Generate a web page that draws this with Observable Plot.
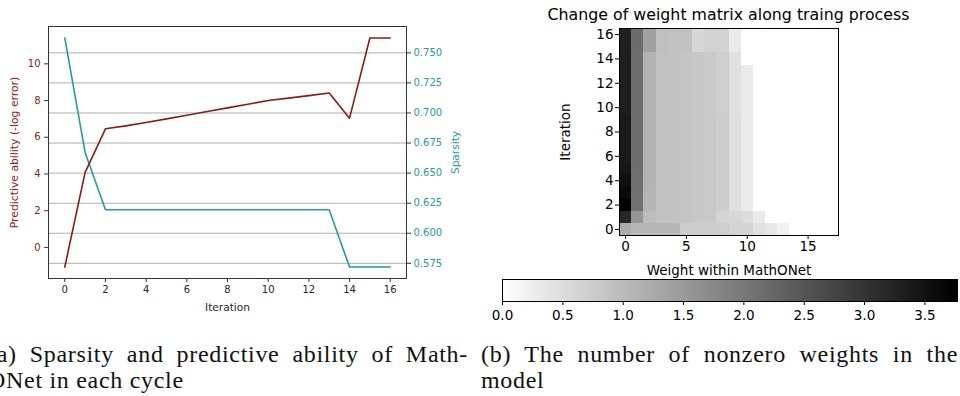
<!DOCTYPE html>
<html>
<head>
<meta charset="utf-8">
<script src="https://cdn.jsdelivr.net/npm/d3@7"></script>
<script src="https://cdn.jsdelivr.net/npm/@observablehq/plot@0.6"></script>
<style>
  html, body { margin: 0; padding: 0; background: #fff; }
  #root { position: relative; width: 960px; height: 396px; overflow: hidden; font-family: "DejaVu Sans", sans-serif; }
  #root svg { position: absolute; }
  .title { position: absolute; text-align: center; font-family: "DejaVu Sans", sans-serif; font-size: 15.8px; line-height: 16px; color: #000; white-space: nowrap; }
  .cap { position: absolute; font-family: "Liberation Serif", serif; font-size: 24px; letter-spacing: 0.7px; line-height: 26px; color: #111; white-space: nowrap; }
  .just { text-align: justify; text-align-last: justify; white-space: normal; }
</style>
</head>
<body>
<div id="root"></div>
<script>
// ---- (a) sparsity and predictive ability per cycle ----
const iterations = [0, 1, 2, 3, 4, 5, 6, 7, 8, 9, 10, 11, 12, 13, 14, 15, 16];
const predictive = [-1.07, 4.09, 6.46, 6.62, 6.80, 7.00, 7.20, 7.40, 7.60, 7.80, 8.00, 8.13, 8.27, 8.41, 7.04, 11.41, 11.41];
const sparsity = [0.7624, 0.6672, 0.6195, 0.6195, 0.6195, 0.6195, 0.6195, 0.6195, 0.6195, 0.6195, 0.6195, 0.6195, 0.6195, 0.6195, 0.5719, 0.5719, 0.5719];
const iterationTicks = [0, 2, 4, 6, 8, 10, 12, 14, 16];
const predictiveTicks = [0, 2, 4, 6, 8, 10];
const sparsityTicks = [0.575, 0.600, 0.625, 0.650, 0.675, 0.700, 0.725, 0.750];

// ---- (b) nonzero weights along training (one row per iteration, one value per weight bin) ----
const heatIterations = [0, 1, 2, 3, 4, 5, 6, 7, 8, 9, 10, 11, 12, 13, 14, 15, 16];
const weightBins = [0, 1, 2, 3, 4, 5, 6, 7, 8, 9, 10, 11, 12, 13, 14, 15, 16, 17];
const nonzeroLevel = [
  [1.24, 1.06, 1.06, 1.06, 1.06, 0.74, 0.74, 0.74, 0.72, 0.64, 0.64, 0.44, 0.34, 0.19],
  [3.20, 1.55, 0.98, 0.92, 0.90, 0.86, 0.82, 0.80, 0.62, 0.59, 0.52, 0.30],
  [3.77, 2.10, 1.10, 0.92, 0.90, 0.86, 0.82, 0.80, 0.74, 0.46, 0.30],
  [3.62, 2.12, 1.10, 0.92, 0.90, 0.86, 0.82, 0.80, 0.74, 0.46, 0.30],
  [3.55, 2.12, 1.12, 0.92, 0.90, 0.86, 0.82, 0.80, 0.74, 0.46, 0.30],
  [3.45, 2.14, 1.12, 0.92, 0.90, 0.86, 0.82, 0.80, 0.74, 0.46, 0.30],
  [3.40, 2.14, 1.12, 0.92, 0.90, 0.86, 0.82, 0.80, 0.74, 0.46, 0.30],
  [3.40, 2.14, 1.12, 0.92, 0.90, 0.86, 0.82, 0.80, 0.74, 0.46, 0.30],
  [3.40, 2.14, 1.12, 0.92, 0.90, 0.86, 0.82, 0.80, 0.74, 0.46, 0.30],
  [3.40, 2.14, 1.12, 0.92, 0.90, 0.86, 0.82, 0.80, 0.74, 0.46, 0.30],
  [3.33, 2.16, 1.12, 0.92, 0.90, 0.86, 0.82, 0.78, 0.72, 0.44, 0.30],
  [3.33, 2.16, 1.12, 0.92, 0.90, 0.86, 0.82, 0.78, 0.72, 0.44, 0.30],
  [3.33, 2.16, 1.12, 0.92, 0.90, 0.86, 0.82, 0.78, 0.72, 0.44, 0.30],
  [3.33, 2.16, 1.12, 0.92, 0.90, 0.86, 0.82, 0.78, 0.72, 0.44, 0.30],
  [3.33, 2.16, 1.12, 0.92, 0.90, 0.86, 0.82, 0.78, 0.72, 0.44],
  [3.30, 2.18, 1.40, 0.94, 0.92, 0.90, 0.59, 0.67, 0.67, 0.30],
  [3.30, 2.18, 1.40, 0.94, 0.92, 0.90, 0.59, 0.67, 0.67, 0.30]
];
const colorbarTicks = [0, 0.5, 1.0, 1.5, 2.0, 2.5, 3.0, 3.5];

const red = "#8b1a1a";
const teal = "#2a9a96";
const axisInk = "#333";

// matplotlib-style 5% padding around the data range
const padded = (values) => {
  const [lo, hi] = d3.extent(values);
  const p = (hi - lo) * 0.05;
  return [lo - p, hi + p];
};

const root = document.getElementById("root");
const place = (node, left, top) => {
  node.style.left = left + "px";
  node.style.top = top + "px";
  root.appendChild(node);
  return node;
};

// Shared frame for the twin-axis chart
const twin = {
  width: 480, height: 320,
  marginLeft: 48, marginRight: 74, marginTop: 26, marginBottom: 42,
  x: {domain: padded(iterations), axis: null}
};
const lineRows = iterations.map((it, i) => ({iteration: it, predictive: predictive[i], sparsity: sparsity[i]}));

// Right axis: sparsity, grid, x axis and frame
place(Plot.plot({
  ...twin,
  style: {background: "transparent", fontFamily: "DejaVu Sans", fontSize: "10px", color: "#262626"},
  y: {domain: padded(sparsity), axis: null},
  marks: [
    Plot.gridY(sparsityTicks, {stroke: "#b0b0b0", strokeOpacity: 1, strokeWidth: 1}),
    Plot.line(lineRows, {x: "iteration", y: "sparsity", stroke: teal, strokeWidth: 1.6}),
    Plot.axisY(sparsityTicks, {anchor: "right", tickFormat: ".3f", tickSize: 4, tickPadding: 3, stroke: axisInk, fill: teal, label: null}),
    Plot.axisY([], {anchor: "right", fill: teal, fontSize: "10.6px",
      label: "Sparsity", labelAnchor: "center", labelArrow: "none", labelOffset: 52}),
    Plot.axisX(iterationTicks, {tickSize: 4, tickPadding: 3, stroke: axisInk, fill: "#262626", label: null}),
    Plot.axisX([], {fill: "#262626", fontSize: "10.6px",
      label: "Iteration", labelAnchor: "center", labelArrow: "none", labelOffset: 32}),
    Plot.frame({stroke: axisInk})
  ]
}), 0, 0);

// Left axis: predictive ability
place(Plot.plot({
  ...twin,
  style: {background: "transparent", fontFamily: "DejaVu Sans", fontSize: "10px", color: red},
  y: {domain: padded(predictive), axis: null},
  marks: [
    Plot.line(lineRows, {x: "iteration", y: "predictive", stroke: red, strokeWidth: 1.6}),
    Plot.axisY(predictiveTicks, {anchor: "left", tickSize: 4, tickPadding: 4, stroke: axisInk, fill: red, label: null}),
    Plot.axisY([], {anchor: "left", fill: red, fontSize: "10.8px",
      label: "Predictive ability (-log error)", labelAnchor: "center", labelArrow: "none", labelOffset: 38})
  ]
}), 0, 0);

// Heatmap of nonzero weights
const cells = heatIterations.flatMap((it, i) =>
  nonzeroLevel[i].map((v, j) => ({iteration: it, weight: weightBins[j], value: v})));
const vmax = d3.max(cells, d => d.value);
const grayScale = {type: "linear", domain: [0, vmax], range: ["white", "black"]};

place(Plot.plot({
  width: 480, height: 278,
  marginLeft: 139, marginRight: 122, marginTop: 28, marginBottom: 43,
  style: {background: "transparent", fontFamily: "DejaVu Sans", fontSize: "13.5px", color: "#000"},
  x: {domain: [weightBins[0] - 0.5, weightBins[weightBins.length - 1] + 0.5], axis: null},
  y: {domain: [heatIterations[0] - 0.5, heatIterations[heatIterations.length - 1] + 0.5], axis: null},
  color: grayScale,
  marks: [
    Plot.rect(cells, {
      x1: d => d.weight - 0.5, x2: d => d.weight + 0.5,
      y1: d => d.iteration - 0.5, y2: d => d.iteration + 0.5,
      fill: "value", shapeRendering: "crispEdges"
    }),
    Plot.frame({stroke: "#000"}),
    Plot.axisX([0, 5, 10, 15], {tickSize: 4, tickPadding: 2,
      label: "Weight within MathONet", labelAnchor: "center", labelArrow: "none", labelOffset: 39}),
    Plot.axisY(iterationTicks, {tickSize: 4, tickPadding: 2,
      label: "Iteration", labelAnchor: "center", labelArrow: "none", labelOffset: 59})
  ]
}), 480, 0);

// Colour bar
place(Plot.plot({
  width: 480, height: 60,
  marginLeft: 22, marginRight: 3, marginTop: 7, marginBottom: 31,
  style: {background: "transparent", fontFamily: "DejaVu Sans", fontSize: "13.5px", color: "#000"},
  x: {domain: [0, vmax], axis: null},
  y: {domain: [0, 1], axis: null},
  color: grayScale,
  marks: [
    Plot.raster({x1: 0, x2: vmax, y1: 0, y2: 1, fill: (x, y) => x}),
    Plot.frame({stroke: "#000"}),
    Plot.axisX(colorbarTicks, {tickFormat: ".1f", tickSize: 4, tickPadding: 5, label: null})
  ]
}), 480, 272);

// Title and captions
const title = document.createElement("div");
title.className = "title";
title.style.width = "497px";
title.textContent = "Change of weight matrix along traing process";
place(title, 480, 7);

const capA1 = document.createElement("div");
capA1.className = "cap just";
capA1.style.width = "480px";
capA1.textContent = "(a) Sparsity and predictive ability of Math-";
place(capA1, -12, 341);

const capA2 = document.createElement("div");
capA2.className = "cap";
capA2.textContent = "ONet in each cycle";
place(capA2, -12, 367);

const capB1 = document.createElement("div");
capB1.className = "cap just";
capB1.style.width = "477px";
capB1.textContent = "(b) The number of nonzero weights in the";
place(capB1, 481, 341);

const capB2 = document.createElement("div");
capB2.className = "cap";
capB2.textContent = "model";
place(capB2, 481, 367);
</script>
</body>
</html>
